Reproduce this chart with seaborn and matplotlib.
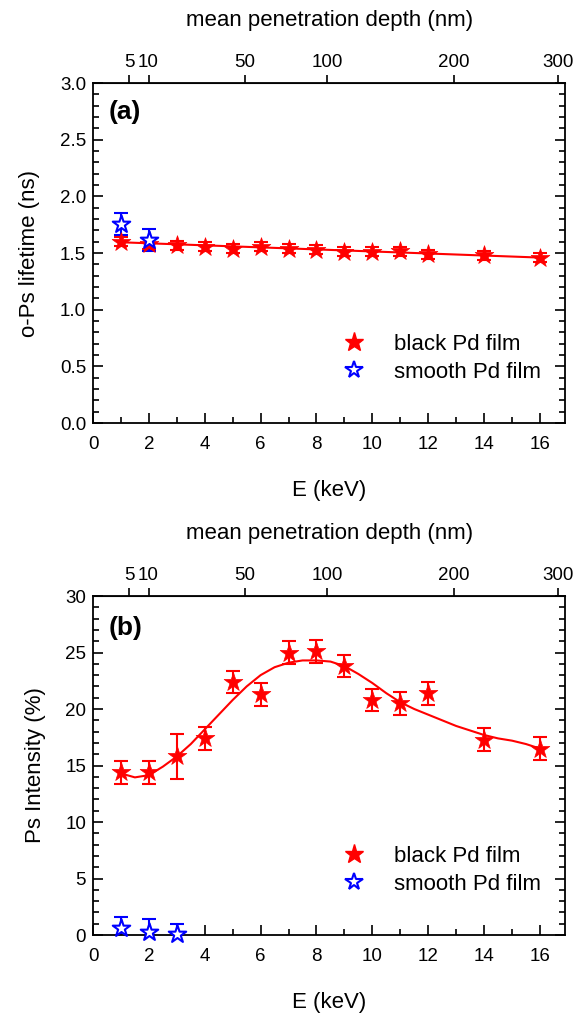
import numpy as np
import matplotlib
matplotlib.use("Agg")
import matplotlib.pyplot as plt
from matplotlib.lines import Line2D
from matplotlib.ticker import MultipleLocator, FormatStrFormatter
import seaborn as sns

sns.set_style("ticks")
plt.rcParams['font.family'] = ['Liberation Sans', 'DejaVu Sans']
plt.rcParams['text.color'] = 'black'
plt.rcParams['axes.labelcolor'] = 'black'
plt.rcParams['xtick.color'] = 'black'
plt.rcParams['ytick.color'] = 'black'

# positron implantation energy (keV)
energy = [1, 2, 3, 4, 5, 6, 7, 8, 9, 10, 11, 12, 14, 16]

# (a) o-Ps lifetime
lifetime_black = [1.60, 1.58, 1.57, 1.555, 1.54, 1.555, 1.54, 1.53, 1.51, 1.51, 1.515, 1.49, 1.48, 1.46]
lifetime_black_err = [0.04] * 14
energy_smooth_a = [1, 2]
lifetime_smooth = [1.755, 1.615]
lifetime_smooth_err = [0.10, 0.095]
fit_a_energy = [1, 16]
fit_a_lifetime = [1.595, 1.46]

# (b) Ps intensity
intensity_black = [14.4, 14.4, 15.8, 17.4, 22.4, 21.3, 25.0, 25.1, 23.8, 20.8, 20.5, 21.4, 17.3, 16.5]
intensity_black_err = [1.0, 1.0, 2.0, 1.0, 1.0, 1.0, 1.0, 1.0, 1.0, 1.0, 1.0, 1.0, 1.0, 1.0]
energy_smooth_b = [1, 2, 3]
intensity_smooth = [0.65, 0.3, 0.1]
intensity_smooth_err = [0.9, 1.15, 0.85]
fit_b_energy = [1, 1.5, 2, 2.5, 3, 3.5, 4, 4.5, 5, 5.5, 6, 6.5, 7, 7.5, 8, 8.5,
                9, 9.5, 10, 10.5, 11, 11.5, 12, 12.5, 13, 13.5, 14, 14.5, 15, 15.5, 16]
fit_b_intensity = [14.3, 13.95, 14.15, 14.9, 15.8, 16.9, 18.2, 19.5, 20.8, 22.0, 23.0, 23.7, 24.1, 24.3,
                   24.3, 24.2, 23.8, 23.1, 22.3, 21.4, 20.6, 20.0, 19.5, 19.0, 18.5, 18.1, 17.7, 17.4,
                   17.2, 16.9, 16.5]

depth_ticks = [5, 10, 50, 100, 200, 300]


def depth_from_energy(e):
    # mean penetration depth in Pd, z = 40/rho * E^1.6
    return 3.33 * np.power(np.clip(e, 1e-6, None), 1.6)


def energy_from_depth(z):
    return np.power(np.clip(z, 1e-6, None) / 3.33, 1 / 1.6)


fig = plt.figure(figsize=(5.85, 10.14), dpi=100)
ax_a = fig.add_axes([0.159, 0.5828, 0.807, 0.3353])
ax_b = fig.add_axes([0.159, 0.0779, 0.807, 0.3343])


def draw_panel(ax, y_black, err_black, e_smooth, y_smooth, err_smooth, fit_e, fit_y):
    ax.errorbar(energy, y_black, yerr=err_black, fmt='none', ecolor='red',
                elinewidth=1.5, capsize=4.8, capthick=1.5, zorder=2)
    ax.errorbar(e_smooth, y_smooth, yerr=err_smooth, fmt='none', ecolor='blue',
                elinewidth=1.5, capsize=4.8, capthick=1.5, zorder=2)
    sns.lineplot(x=fit_e, y=fit_y, ax=ax, color='red', linewidth=1.5, zorder=3)
    sns.scatterplot(x=energy, y=y_black, ax=ax, marker='*', s=200, color='red',
                    edgecolor='red', linewidth=0.5, zorder=4, clip_on=False, legend=False)
    sns.scatterplot(x=e_smooth, y=y_smooth, ax=ax, marker='*', s=175, color='white',
                    edgecolor='blue', linewidth=1.5, zorder=5, clip_on=False, legend=False)

    ax.set_xlim(0, 16.9)
    ax.xaxis.set_major_locator(MultipleLocator(2))
    ax.xaxis.set_minor_locator(MultipleLocator(1))
    ax.tick_params(which='both', direction='in', top=False, right=True, width=1.2,
                   colors='black', labelsize=13.5)
    ax.tick_params(which='major', length=7)
    ax.tick_params(which='minor', length=4)
    ax.tick_params(axis='x', pad=9)
    ax.tick_params(axis='y', pad=5)
    for sp in ax.spines.values():
        sp.set_visible(True)
        sp.set_linewidth(1.3)
        sp.set_color('black')
    ax.set_xlabel('E (keV)', fontsize=16, labelpad=20)

    sec = ax.secondary_xaxis('top', functions=(depth_from_energy, energy_from_depth))
    sec.set_xticks(depth_ticks)
    sec.set_xticklabels([str(d) for d in depth_ticks])
    sec.tick_params(direction='out', length=6, width=1.2, labelsize=13.5, pad=3, colors='black')
    sec.set_xlabel('mean penetration depth (nm)', fontsize=16, labelpad=20)

    handles = [
        Line2D([], [], marker='*', color='red', ls='none', ms=14),
        Line2D([], [], marker='*', color='blue', mfc='white', mec='blue', mew=1.5, ls='none', ms=13),
    ]
    ax.legend(handles, ['black Pd film', 'smooth Pd film'], loc='center left',
              bbox_to_anchor=(0.464, 0.19), frameon=False, fontsize=16,
              handletextpad=0.8, labelspacing=0.3)


draw_panel(ax_a, lifetime_black, lifetime_black_err, energy_smooth_a, lifetime_smooth,
           lifetime_smooth_err, fit_a_energy, fit_a_lifetime)
ax_a.set_ylim(0, 3.0)
ax_a.yaxis.set_major_locator(MultipleLocator(0.5))
ax_a.yaxis.set_minor_locator(MultipleLocator(0.1))
ax_a.yaxis.set_major_formatter(FormatStrFormatter('%.1f'))
ax_a.set_ylabel('o-Ps lifetime (ns)', fontsize=16, labelpad=14)
ax_a.text(0.034, 0.915, '(a)', transform=ax_a.transAxes, fontsize=19,
          fontweight='bold', va='center', ha='left')

draw_panel(ax_b, intensity_black, intensity_black_err, energy_smooth_b, intensity_smooth,
           intensity_smooth_err, fit_b_energy, fit_b_intensity)
ax_b.set_ylim(0, 30)
ax_b.yaxis.set_major_locator(MultipleLocator(5))
ax_b.yaxis.set_minor_locator(MultipleLocator(1))
ax_b.set_ylabel('Ps Intensity (%)', fontsize=16, labelpad=14)
ax_b.text(0.034, 0.906, '(b)', transform=ax_b.transAxes, fontsize=19,
          fontweight='bold', va='center', ha='left')

fig.savefig('out.png', dpi=100)
